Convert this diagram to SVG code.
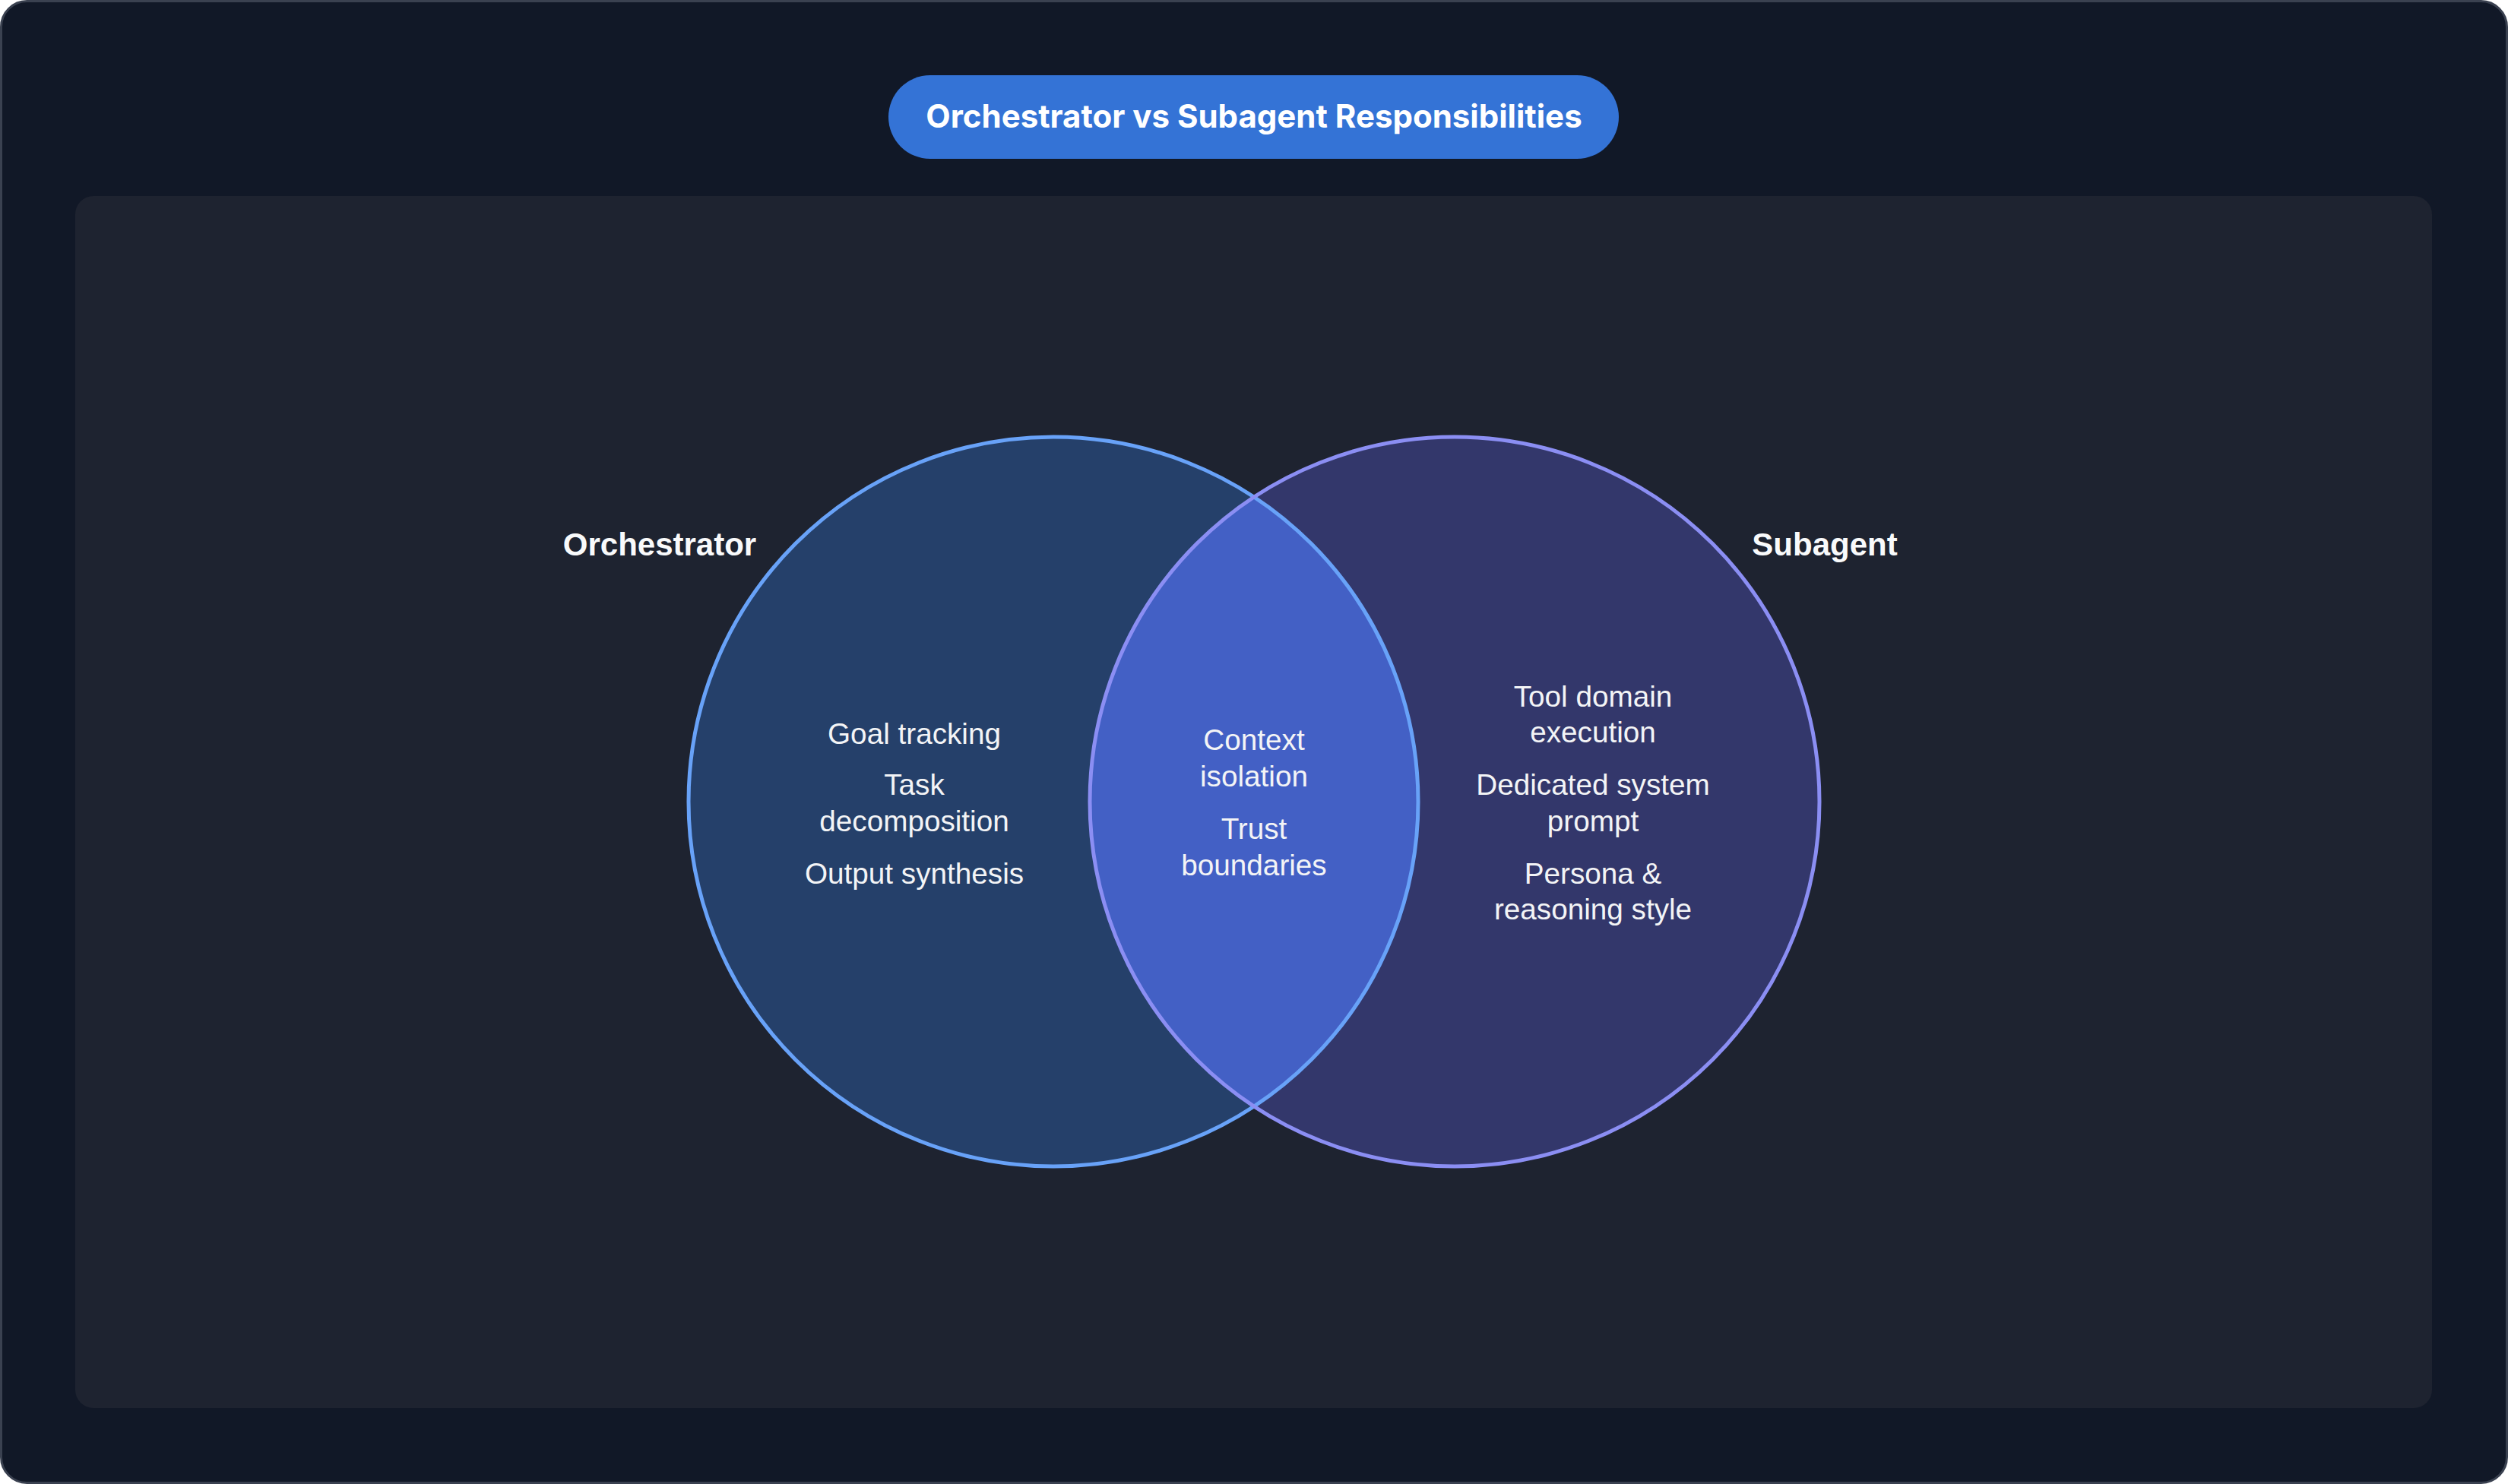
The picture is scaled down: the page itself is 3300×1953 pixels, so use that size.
<svg xmlns="http://www.w3.org/2000/svg" width="3300" height="1953" viewBox="0 0 3300 1953">
  <defs>
    <style>
      .body { font-family: "Liberation Sans", Arial, sans-serif; font-size: 38.7px; fill: #f3f4f6; text-anchor: middle; }
      .set { font-family: "Liberation Sans", Arial, sans-serif; font-size: 42px; font-weight: 700; fill: #f9fafb; text-anchor: middle; }
      .title { font-family: Inter, "Noto Sans", sans-serif; font-size: 42px; font-weight: 700; fill: #ffffff; text-anchor: middle; }
    </style>
    <clipPath id="clipLeft">
      <circle cx="1386" cy="1055" r="480"/>
    </clipPath>
  </defs>

  <rect x="1.5" y="1.5" width="3297" height="1950" rx="34" fill="#111827" stroke="#3a4150" stroke-width="3"/>
  <rect x="99" y="258" width="3101" height="1595" rx="24" fill="#1e2330"/>

  <g id="title">
    <rect x="1169" y="99" width="961" height="110" rx="55" fill="#3473d6"/>
    <text class="title" x="1650" y="168">Orchestrator vs Subagent Responsibilities</text>
  </g>

  <g id="orchestrator">
    <circle cx="1386" cy="1055" r="480" fill="#25406a"/>
  </g>
  <g id="subagent">
    <circle cx="1914" cy="1055" r="480" fill="#33376b"/>
  </g>
  <g id="overlap">
    <circle cx="1914" cy="1055" r="480" fill="#4360c5" clip-path="url(#clipLeft)"/>
  </g>
  <g id="outlines" fill="none" stroke-width="5">
    <circle cx="1386" cy="1055" r="480" stroke="#68a2f8"/>
    <circle cx="1914" cy="1055" r="480" stroke="#8b8ef3"/>
  </g>

  <g id="labels">
    <text class="set" x="868" y="731">Orchestrator</text>
    <text class="set" x="2401" y="731">Subagent</text>
  </g>

  <g id="orchestrator-items">
    <text class="body" x="1203" y="979">Goal tracking</text>
    <text class="body" x="1203" y="1046">Task</text>
    <text class="body" x="1203" y="1094">decomposition</text>
    <text class="body" x="1203" y="1163">Output synthesis</text>
  </g>

  <g id="overlap-items">
    <text class="body" x="1650" y="987">Context</text>
    <text class="body" x="1650" y="1035">isolation</text>
    <text class="body" x="1650" y="1104">Trust</text>
    <text class="body" x="1650" y="1152">boundaries</text>
  </g>

  <g id="subagent-items">
    <text class="body" x="2096" y="930">Tool domain</text>
    <text class="body" x="2096" y="977">execution</text>
    <text class="body" x="2096" y="1046">Dedicated system</text>
    <text class="body" x="2096" y="1094">prompt</text>
    <text class="body" x="2096" y="1163">Persona &amp;</text>
    <text class="body" x="2096" y="1210">reasoning style</text>
  </g>
</svg>
